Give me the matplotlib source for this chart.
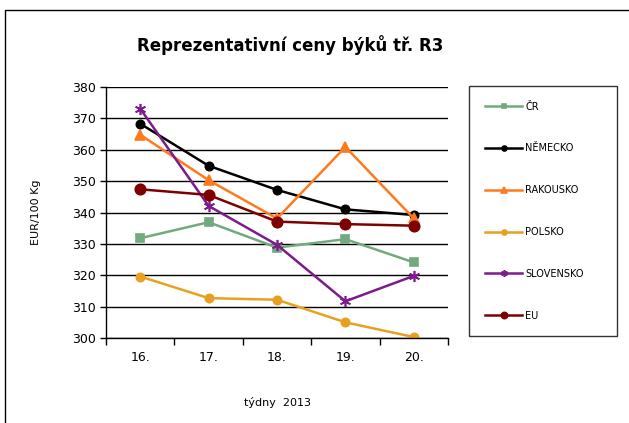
import matplotlib.pyplot as plt
from matplotlib.patches import Rectangle

weeks = ['16.', '17.', '18.', '19.', '20.']
cr = [331.8, 336.9, 328.8, 331.5, 324.1]
nemecko = [368.3, 354.9, 347.2, 341.0, 339.2]
rakousko = [364.8, 350.3, 338.1, 360.9, 338.1]
polsko = [319.6, 312.7, 312.2, 305.0, 300.3]
slovensko = [373.1, 342.1, 329.7, 311.7, 319.8]
eu = [347.4, 345.6, 337.1, 336.3, 335.8]

series = [
    ('ČR', cr, '#73a97f', 's', 6),
    ('NĚMECKO', nemecko, '#000000', 'o', 6),
    ('RAKOUSKO', rakousko, '#ff7a1c', '^', 6.5),
    ('POLSKO', polsko, '#e8a020', 'o', 6),
    ('SLOVENSKO', slovensko, '#7d1a8c', (6, 2, 0), 8),
    ('EU', eu, '#7f0000', 'o', 7.5),
]

fig = plt.figure(figsize=(6.29, 4.23), dpi=100)
fig.patches.append(Rectangle((5 / 629, -0.01), 1.0, 1 - 10 / 423 + 0.01,
                             transform=fig.transFigure, fill=False,
                             edgecolor='black', linewidth=1.0))

ax = fig.add_axes([106 / 629, 1 - 338 / 423, 342 / 629, 251 / 423])
x = range(len(weeks))
for name, vals, color, marker, ms in series:
    ax.plot(x, vals, color=color, marker=marker, markersize=ms, linewidth=1.8,
            markeredgecolor=color, markeredgewidth=1.2, label=name)

ax.set_xlim(-0.5, len(weeks) - 0.5)
ax.set_ylim(300, 380)
ax.set_yticks(range(300, 381, 10))
ax.set_xticks(x)
ax.set_xticklabels(weeks)
ax.set_xticks([i - 0.5 for i in range(len(weeks) + 1)], minor=True)
ax.tick_params(axis='x', which='major', length=0, labelsize=9, pad=9)
ax.tick_params(axis='x', which='minor', length=5, direction='out', width=1)
ax.tick_params(axis='y', length=4, direction='out', labelsize=9, width=1)
ax.grid(axis='y', color='black', linewidth=1)
ax.set_axisbelow(True)
for s in ['top', 'right']:
    ax.spines[s].set_visible(False)
for s in ['left', 'bottom']:
    ax.spines[s].set_linewidth(1)

ax.set_ylabel('EUR/100 Kg', fontsize=8, labelpad=22)
ax.set_xlabel('týdny  2013', fontsize=8, labelpad=24)

fig.text(290 / 629, 1 - 45 / 423, 'Reprezentativní ceny býků tř. R3',
         ha='center', va='center', fontsize=12, fontweight='bold')

leg = fig.legend(loc='upper left',
                 bbox_to_anchor=(469 / 629, 1 - 337 / 423, 148 / 629, 251 / 423),
                 mode='expand', frameon=True, fontsize=7, labelspacing=3.27,
                 handlelength=3.9, handletextpad=0.3, borderpad=1.6,
                 borderaxespad=0, fancybox=False, markerscale=0.6)
leg.get_frame().set_edgecolor('black')
leg.get_frame().set_linewidth(1)

fig.savefig('out.png', dpi=100)
